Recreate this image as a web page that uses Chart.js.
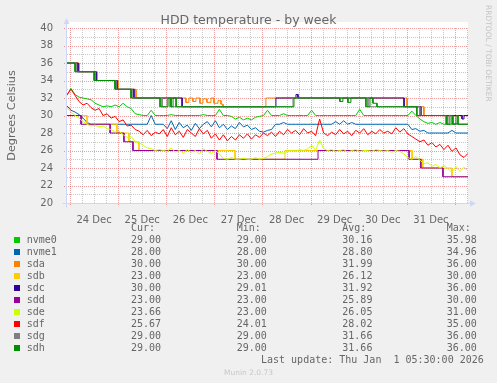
<!DOCTYPE html>
<html><head><meta charset="utf-8">
<script src="https://cdn.jsdelivr.net/npm/chart.js@4/dist/chart.umd.min.js"></script>
<style>
html,body{margin:0;padding:0;background:#f0f0f0;}
#wrap{position:relative;width:497px;height:383px;overflow:hidden;background:#f0f0f0;}
#c{position:absolute;left:0;top:0;}
.txt{position:absolute;white-space:pre;color:#666;}
.mono{font-family:'DejaVu Sans Mono',monospace;font-size:10px;line-height:12px;height:12px;}
.sq{position:absolute;width:6px;height:6px;}
</style>
</head><body>
<div id="wrap">
<canvas id="c" width="497" height="383"></canvas>
<div class="txt" id="title" style="left:0;top:12px;width:497px;text-align:center;font-family:'DejaVu Sans';font-size:12.5px;line-height:15px;"></div>
<div class="txt" id="rrd" style="left:483.5px;top:5px;writing-mode:vertical-rl;font-family:'DejaVu Sans';font-size:7.5px;line-height:9px;color:#c4c4c4;"></div>
<div id="legend"></div>
</div>
<script>
const chartTitle = 'HDD temperature - by week';
const yTitle = 'Degrees Celsius';
const watermark = 'RRDTOOL / TOBI OETIKER';
const lastUpdate = 'Last update: Thu Jan  1 05:30:00 2026';
const footer = 'Munin 2.0.73';

// x values are hours since 24 Dec 00:00
const dayLabels = ['24 Dec','25 Dec','26 Dec','27 Dec','28 Dec','29 Dec','30 Dec','31 Dec'];
const labelHours = [12,36,60,84,108,132,156,180];
const yTicks = [20,22,24,26,28,30,32,34,36,38,40];

const seriesNames = ['nvme0','nvme1','sda','sdb','sdc','sdd','sde','sdf','sdg','sdh'];
const seriesColors = ['#00CC00','#0066B3','#FF8000','#FFCC00','#330099','#990099','#CCFF00','#FF0000','#808080','#008F00'];
const curValues = [29.00,28.00,30.00,23.00,30.00,23.00,23.66,25.67,29.00,29.00];
const minValues = [29.00,28.00,30.00,23.00,29.01,23.00,23.00,24.01,29.00,29.00];
const avgValues = [30.16,28.80,31.99,26.12,31.92,25.89,26.05,28.02,31.66,31.66];
const maxValues = [35.98,34.96,36.00,30.00,36.00,30.00,31.00,35.00,36.00,36.00];

const sampleHours = [-1.5,0.5,2.5,4.5,6.5,8.5,10.5,12.5,14.5,16.5,18.5,20.5,22.5,24.5,26.5,28.5,30.5,32.5,34.5,36.5,38.5,40.5,42.5,44.5,46.5,48.5,50.5,52.5,54.5,56.5,58.5,60.5,62.5,64.5,66.5,68.5,70.5,72.5,74.5,76.5,78.5,80.5,82.5,84.5,86.5,88.5,90.5,92.5,94.5,96.5,98.5,100.5,102.5,104.5,106.5,108.5,110.5,112.5,114.5,116.5,118.5,120.5,122.5,124.5,126.5,128.5,130.5,132.5,134.5,136.5,138.5,140.5,142.5,144.5,146.5,148.5,150.5,152.5,154.5,156.5,158.5,160.5,162.5,164.5,166.5,168.5,170.5,172.5,174.5,176.5,178.5,180.5,182.5,184.5,186.5,188.5,190.5,192.5,194.5,196.5,198.5];

const nvme0Temps = [32.3,33.1,32.4,32.1,32.0,31.9,31.8,31.4,31.2,31.0,
 31.1,31.0,31.2,31.0,31.4,31.0,30.8,30.2,30.1,30.0,
 30.0,30.6,30.0,30.0,30.0,30.0,30.1,30.0,30.0,30.0,
 30.0,30.0,30.0,30.0,30.1,30.0,30.0,30.0,30.7,30.0,
 30.0,29.9,29.6,29.8,29.5,29.7,29.5,29.8,29.9,30.0,
 30.6,30.0,30.0,30.0,30.2,30.0,30.0,30.0,30.0,30.0,
 30.0,30.6,30.0,30.0,30.0,30.0,30.0,30.0,30.0,30.0,
 30.0,30.0,30.0,30.7,30.0,30.0,30.0,30.0,30.0,30.0,
 30.0,30.0,30.0,30.0,30.0,30.0,30.5,30.0,29.6,29.3,
 29.1,29.2,29.0,29.2,29.0,29.0,29.0,29.1,29.0,29.0,29.0];
const nvme1Temps = [31.1,30.6,30.4,30.1,29.7,29.2,29.0,29.0,29.0,29.0,
 29.0,29.0,29.0,29.0,29.0,29.0,29.0,29.0,29.0,29.0,
 29.0,30.0,29.0,29.0,29.0,28.5,29.4,28.4,29.2,28.6,
 28.9,28.3,29.1,28.5,29.0,29.3,28.7,29.4,28.6,29.0,
 28.4,28.8,28.5,29.2,28.7,28.9,28.4,28.6,28.2,28.1,
 28.3,28.4,29.0,29.0,29.2,29.0,29.0,29.0,29.0,29.0,
 29.0,29.0,29.0,29.0,29.0,29.0,29.0,29.3,29.0,29.4,
 29.0,29.2,29.0,29.0,29.0,29.0,29.0,29.0,29.0,29.0,
 29.0,29.0,29.0,29.0,29.0,29.0,28.4,28.5,28.2,28.3,
 28.0,28.0,28.0,28.0,28.0,28.0,28.3,28.0,28.0,28.0,28.0];
const sdeTemps = [30.9,30.4,30.0,29.7,29.3,29.0,28.8,28.9,28.7,28.8,
 28.5,28.4,28.1,28.2,27.8,27.5,27.6,27.0,26.9,26.6,
 26.3,26.2,26.0,26.1,26.0,25.9,26.3,25.8,26.0,25.7,
 26.1,25.8,26.0,25.6,26.2,25.9,25.7,26.0,25.6,25.1,
 25.0,25.2,25.0,25.0,25.1,25.0,25.0,25.2,25.0,25.1,
 25.3,25.6,25.7,25.8,25.7,25.9,26.0,25.9,26.1,26.0,
 26.2,26.6,26.0,27.2,26.2,26.0,26.1,25.9,26.0,26.1,
 25.8,26.0,26.1,25.9,26.0,26.0,25.9,26.1,26.0,25.9,
 26.0,25.8,26.0,25.9,25.6,25.2,25.0,25.3,24.9,24.5,
 24.6,24.2,24.4,24.0,24.3,23.9,23.5,24.2,23.6,24.1,23.66];
const sdfTemps = [32.4,33.0,32.3,31.6,31.2,31.4,30.9,30.6,30.8,30.0,
 30.2,29.7,29.9,29.3,29.5,28.8,28.9,28.4,28.2,27.8,
 28.3,27.7,28.1,27.9,28.4,27.6,28.6,27.8,28.2,27.5,
 28.4,28.0,27.6,28.5,27.9,28.3,27.4,27.9,27.2,27.8,
 27.1,27.6,27.2,27.8,27.4,27.9,27.3,27.8,27.5,28.0,
 27.7,28.1,27.6,28.2,27.8,28.4,28.0,28.3,27.8,28.5,
 28.0,28.2,27.7,29.6,28.0,27.7,28.1,27.8,28.4,27.9,
 28.2,27.7,28.3,28.0,28.5,27.8,28.2,27.9,28.4,28.0,
 28.2,27.9,28.6,28.1,28.5,27.9,27.6,27.3,27.0,27.2,
 26.6,26.9,26.4,26.7,26.1,26.6,25.9,26.3,25.5,25.2,25.67];

// step series: hour at which each new reading begins
const sdaHours = [-1.5,4.5,13.5,23.9,32.9,57.8,59.3,61.3,62.8,64.8,66.3,68.3,70.3,71.8,73.8,75.3,76.3,97.7,168.1,176.5,198.5];
const sdaTemps = [36,35,34,33,32,31.5,32,31.6,32,31.4,31.9,31.5,32,31.4,31.7,31.3,31,32,31,30,30];
const sdbHours = [-1.5,8.5,23.4,29.4,34.4,82.3,107.2,170.6,176.0,190.5,198.5];
const sdbTemps = [30,29,28,27,26,25,26,25,24,23,23];
const sdcHours = [-1.5,4.0,13.0,23.4,31.9,55.9,102.7,112.7,113.7,166.6,175.0,195.5,196.5,198.5];
const sdcTemps = [36,35,34,33,32,31,32,32.4,32,31,30,29.6,30,30];
const sddHours = [-1.5,5.5,20.0,26.9,31.4,73.3,123.7,169.1,175.0,186.0,198.5];
const sddTemps = [30,29,28,27,26,25,26,25,24,23,23];
const sdgHours = [-1.5,3.0,12.5,22.9,30.9,45.9,48.4,49.9,111.2,148.6,174.5,187.5,189.0,190.5,198.5];
const sdgTemps = [36,35,34,33,32,31,32,31,32,31,30,29,30,29,29];
const sdhHours = [-1.5,2.5,12.0,22.4,30.4,44.9,48.9,50.4,51.4,52.9,111.7,134.6,136.1,138.6,140.1,147.6,149.6,151.1,153.1,173.0,188.0,189.5,191.0,192.5,193.5,198.5];
const sdhTemps = [36,35,34,33,32,31,32,31,32,31,32,31.6,32,31.5,32,31,32,31.4,31,30,29,30,29,30,29,29];

const seriesSource = {
  nvme0:[sampleHours,nvme0Temps,false], nvme1:[sampleHours,nvme1Temps,false],
  sda:[sdaHours,sdaTemps,true], sdb:[sdbHours,sdbTemps,true],
  sdc:[sdcHours,sdcTemps,true], sdd:[sddHours,sddTemps,true],
  sde:[sampleHours,sdeTemps,false], sdf:[sampleHours,sdfTemps,false],
  sdg:[sdgHours,sdgTemps,true], sdh:[sdhHours,sdhTemps,true]
};

// for step series each point's value holds until the next point's hour
const datasets = seriesNames.map((n,i)=>{
  const [hs,vs,st] = seriesSource[n];
  let pts;
  if (st) {
    pts = [];
    hs.forEach((h,j)=>{
      if (j>0) pts.push({x:h, y:vs[j-1]});
      pts.push({x:h, y:vs[j]});
    });
  } else {
    pts = hs.map((h,j)=>({x:h,y:vs[j]}));
  }
  return {label:n, data:pts, borderColor:seriesColors[i],
    backgroundColor:seriesColors[i], borderWidth:1, pointRadius:0, fill:false,
    tension:0, order:-i};
});

const GRID = 'rgba(143,143,143,0.5)';
const MGRID = 'rgba(222,79,79,0.55)';
const AXIS = '#CFD6F8';

const muninBg = {
  id:'muninBg',
  beforeDatasetsDraw(chart){
    const {ctx, chartArea:a, scales:{x,y}} = chart;
    ctx.save();
    ctx.fillStyle = '#ffffff';
    ctx.fillRect(a.left, a.top-6, a.right-a.left, a.bottom-a.top+6);
    ctx.lineWidth = 1;
    ctx.setLineDash([1,1]);
    // minor grid
    ctx.strokeStyle = GRID;
    for (let v = y.min+1; v < y.max; v += 2) {
      const py = Math.round(y.getPixelForValue(v))+0.5;
      ctx.beginPath(); ctx.moveTo(a.left, py); ctx.lineTo(a.right, py); ctx.stroke();
    }
    for (let h = 0; h <= x.max; h += 6) {
      if (h % 24 === 0) continue;
      const px = Math.round(x.getPixelForValue(h))+0.5;
      ctx.beginPath(); ctx.moveTo(px, a.top); ctx.lineTo(px, a.bottom); ctx.stroke();
    }
    // major grid
    ctx.strokeStyle = MGRID;
    for (let v = y.min+2; v <= y.max; v += 2) {
      const py = Math.round(y.getPixelForValue(v))+0.5;
      ctx.beginPath(); ctx.moveTo(a.left-3, py); ctx.lineTo(a.right, py); ctx.stroke();
    }
    for (let h = 0; h <= x.max; h += 24) {
      const px = Math.round(x.getPixelForValue(h))+0.5;
      ctx.beginPath(); ctx.moveTo(px, a.top); ctx.lineTo(px, a.bottom+3); ctx.stroke();
    }
    ctx.setLineDash([]);
    // axes with arrows
    ctx.strokeStyle = AXIS; ctx.fillStyle = AXIS;
    const ax = Math.round(a.left)-0.5, ay = Math.round(a.bottom)+0.5;
    ctx.beginPath(); ctx.moveTo(ax, ay+4); ctx.lineTo(ax, a.top-5); ctx.stroke();
    ctx.beginPath(); ctx.moveTo(ax-3, a.top-4); ctx.lineTo(ax+3, a.top-4); ctx.lineTo(ax, a.top-10); ctx.closePath(); ctx.fill();
    ctx.beginPath(); ctx.moveTo(ax-4, ay); ctx.lineTo(a.right+3, ay); ctx.stroke();
    ctx.beginPath(); ctx.moveTo(a.right+2, ay-3); ctx.lineTo(a.right+2, ay+3); ctx.lineTo(a.right+8, ay); ctx.closePath(); ctx.fill();
    ctx.restore();
  }
};

const txtFont = {family:'DejaVu Sans', size:10};
new Chart(document.getElementById('c'), {
  type:'line',
  data:{datasets},
  options:{
    responsive:false, animation:false, devicePixelRatio:1,
    layout:{padding:{left:0,right:29,top:28,bottom:160}},
    plugins:{legend:{display:false}, tooltip:{enabled:false}, title:{display:false}},
    scales:{
      x:{type:'linear', min:-1.5, max:198.5, grid:{display:false}, border:{display:false},
        afterBuildTicks:s=>{ s.ticks = labelHours.map(v=>({value:v})); },
        afterFit:s=>{ s.height = 20; },
        ticks:{autoSkip:false, maxRotation:0, minRotation:0, padding:3, color:'#666', font:txtFont,
          callback:v=>{ const k = labelHours.indexOf(v); return k>=0 ? dayLabels[k] : ''; }}},
      y:{min:20, max:40, grid:{display:false}, border:{display:false},
        afterBuildTicks:s=>{ s.ticks = yTicks.map(v=>({value:v})); },
        afterFit:s=>{ s.width = 67; },
        ticks:{padding:6, color:'#666', font:txtFont},
        title:{display:true, text:yTitle, color:'#666', font:{family:'DejaVu Sans', size:11.3}, padding:{top:5,bottom:0}}}
    }
  },
  plugins:[muninBg]
});

document.getElementById('title').textContent = chartTitle;
document.getElementById('rrd').textContent = watermark;

const lg = document.getElementById('legend');
function addText(txt, left, centerY, cls, extra){
  const d = document.createElement('div');
  d.className = 'txt ' + cls;
  d.style.left = left+'px';
  d.style.top = (centerY-6)+'px';
  if (extra) Object.assign(d.style, extra);
  d.textContent = txt;
  lg.appendChild(d);
}
const colX = [131, 236.7, 342.3, 446.7];
['Cur:','Min:','Avg:','Max:'].forEach((h,i)=>addText(h, colX[i], 228, 'mono'));
seriesNames.forEach((n,i)=>{
  const cy = 240 + 12*i;
  const sq = document.createElement('div');
  sq.className = 'sq';
  sq.style.left = '14px'; sq.style.top = (cy-3)+'px'; sq.style.background = seriesColors[i];
  lg.appendChild(sq);
  addText(n, 26.7, cy, 'mono');
  [curValues,minValues,avgValues,maxValues].forEach((arr,j)=>addText(arr[i].toFixed(2), colX[j], cy, 'mono'));
});
addText(lastUpdate, 261, 360, 'mono');
addText(footer, 0, 372.5, '', {width:'497px', textAlign:'center', fontFamily:'DejaVu Sans', fontSize:'7.5px', lineHeight:'12px', color:'#c8c8c8'});
</script>
</body></html>
